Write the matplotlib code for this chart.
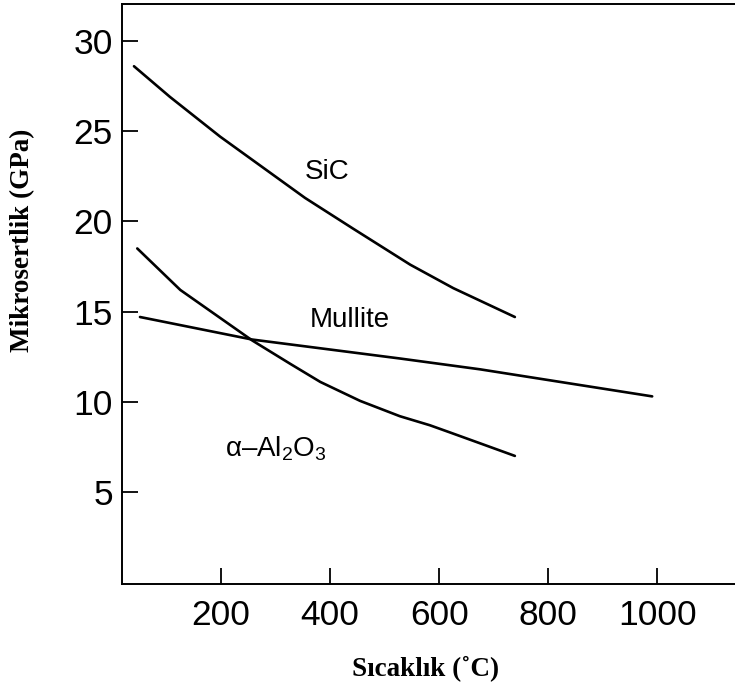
import matplotlib
matplotlib.use("Agg")
import matplotlib.pyplot as plt

# Microhardness vs. temperature for three ceramics
sic_t = [40, 106, 198, 354, 442, 547, 626, 739]
sic_h = [28.6, 26.9, 24.7, 21.3, 19.6, 17.6, 16.3, 14.7]

al2o3_t = [46, 125, 257, 327, 382, 455, 528, 583, 620, 675, 739]
al2o3_h = [18.5, 16.2, 13.4, 12.1, 11.1, 10.05, 9.2, 8.7, 8.3, 7.7, 7.0]

mullite_t = [51, 257, 528, 675, 991]
mullite_h = [14.7, 13.45, 12.4, 11.8, 10.3]

x_ticks = [200, 400, 600, 800, 1000]
y_ticks = [5, 10, 15, 20, 25, 30]

plt.rcParams["mathtext.fontset"] = "custom"
plt.rcParams["mathtext.rm"] = "Liberation Sans"
plt.rcParams["mathtext.it"] = "Liberation Sans:italic"

fig = plt.figure(figsize=(7.35, 6.86), dpi=100)
ax = fig.add_axes([122 / 735, 102 / 686, 1 - 122 / 735, 580 / 686])

line_kw = dict(color="black", lw=1.9, solid_capstyle="round",
               solid_joinstyle="round")
ax.plot(sic_t, sic_h, **line_kw)
ax.plot(al2o3_t, al2o3_h, **line_kw)
ax.plot(mullite_t, mullite_h, **line_kw)

ax.set_xlim(18, 1143)
ax.set_ylim(-0.1, 32.05)

ax.spines["right"].set_visible(False)
for s in ("left", "bottom", "top"):
    ax.spines[s].set_linewidth(1.4)

ax.set_xticks(x_ticks)
ax.set_yticks(y_ticks)
ax.tick_params(axis="both", direction="in", length=11.5, width=1.3,
               labelsize=25.5)
ax.tick_params(axis="x", pad=11)
ax.tick_params(axis="y", pad=6.5)
for lab in ax.get_xticklabels() + ax.get_yticklabels():
    lab.set_fontfamily("Liberation Sans")

lab_font = dict(family="Liberation Sans", fontsize=20, color="black")
ax.text(394, 22.33, "SiC", ha="center", va="baseline", **lab_font)
ax.text(437, 14.17, "Mullite", ha="center", va="baseline", **lab_font)
ax.text(207, 6.94, "α–Al$_2$O$_3$", ha="left", va="baseline", **lab_font)

axis_font = dict(family="Liberation Serif", fontweight="bold", fontsize=19.5)
fig.text(23 / 735, 1 - 240 / 686, "Mikrosertlik (GPa)", rotation=90,
         ha="center", va="center", **axis_font)
fig.text(426 / 735, 1 - 668 / 686, "Sıcaklık (˚C)", ha="center",
         va="center", **axis_font)

fig.savefig("out.png", dpi=100)
